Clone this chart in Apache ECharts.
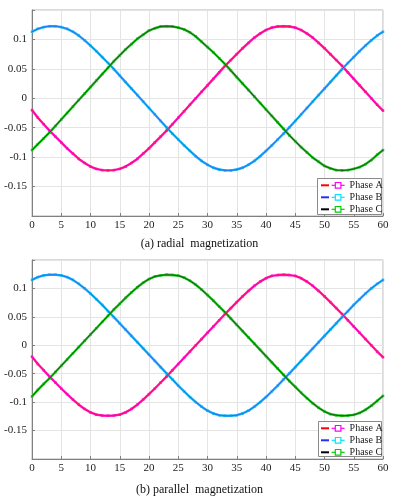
<!DOCTYPE html>
<html>
<head>
<meta charset="utf-8">
<script src="https://cdn.jsdelivr.net/npm/echarts@6/dist/echarts.min.js"></script>
<style>
  html, body { margin: 0; padding: 0; background: #fff; }
  #chart { width: 399px; height: 498px; }
</style>
</head>
<body>
<div id="chart"></div>
<script>
// x 轴: 0..60
var xDeg = [0, 1, 2, 3, 4, 5, 6, 7, 8, 9, 10, 11, 12, 13, 14, 15, 16, 17, 18, 19, 20,
  21, 22, 23, 24, 25, 26, 27, 28, 29, 30, 31, 32, 33, 34, 35, 36, 37, 38, 39, 40,
  41, 42, 43, 44, 45, 46, 47, 48, 49, 50, 51, 52, 53, 54, 55, 56, 57, 58, 59, 60];
var xTicks = [0, 5, 10, 15, 20, 25, 30, 35, 40, 45, 50, 55, 60];
var yTicks = [-0.15, -0.1, -0.05, 0, 0.05, 0.1];

// (a) radial magnetization
var radialA = [-0.020, -0.033, -0.044, -0.055, -0.065, -0.075, -0.085, -0.094, -0.103, -0.110, -0.116,
  -0.120, -0.122, -0.1225, -0.122, -0.120, -0.116, -0.110, -0.103, -0.094, -0.085,
  -0.075, -0.065, -0.055, -0.044, -0.033, -0.022, -0.011, 0, 0.011, 0.022,
  0.033, 0.044, 0.055, 0.065, 0.075, 0.085, 0.094, 0.103, 0.110, 0.116,
  0.120, 0.122, 0.1225, 0.122, 0.120, 0.116, 0.110, 0.103, 0.094, 0.085,
  0.075, 0.065, 0.055, 0.044, 0.033, 0.022, 0.011, 0, -0.011, -0.021];
var radialB = [0.113, 0.118, 0.121, 0.1225, 0.1225, 0.121, 0.118, 0.113, 0.1065, 0.0985, 0.0895,
  0.080, 0.070, 0.060, 0.0495, 0.0385, 0.0275, 0.0165, 0.0055, -0.0055, -0.0165,
  -0.0275, -0.0385, -0.0495, -0.060, -0.070, -0.080, -0.0895, -0.0985, -0.1065, -0.113,
  -0.118, -0.121, -0.1225, -0.1225, -0.121, -0.118, -0.113, -0.1065, -0.0985, -0.0895,
  -0.080, -0.070, -0.060, -0.0495, -0.0385, -0.0275, -0.0165, -0.0055, 0.0055, 0.0165,
  0.0275, 0.0385, 0.0495, 0.060, 0.070, 0.080, 0.0895, 0.0985, 0.1065, 0.113];
var radialC = [-0.088, -0.078, -0.068, -0.058, -0.047, -0.036, -0.025, -0.014, -0.003, 0.008, 0.019,
  0.030, 0.041, 0.052, 0.063, 0.073, 0.083, 0.092, 0.101, 0.108, 0.115,
  0.119, 0.122, 0.1225, 0.122, 0.120, 0.117, 0.112, 0.105, 0.096, 0.087,
  0.078, 0.068, 0.058, 0.047, 0.036, 0.025, 0.014, 0.003, -0.008, -0.019,
  -0.030, -0.041, -0.052, -0.063, -0.073, -0.083, -0.092, -0.101, -0.108, -0.115,
  -0.119, -0.122, -0.1225, -0.122, -0.120, -0.117, -0.112, -0.105, -0.096, -0.088];

// (b) parallel magnetization
var parallelA = [-0.020, -0.033, -0.044, -0.055, -0.0655, -0.076, -0.086, -0.0955, -0.1045, -0.112, -0.118,
  -0.122, -0.1235, -0.124, -0.1235, -0.122, -0.118, -0.112, -0.1045, -0.0955, -0.086,
  -0.076, -0.0655, -0.055, -0.044, -0.033, -0.022, -0.011, 0, 0.011, 0.022,
  0.033, 0.044, 0.055, 0.0655, 0.076, 0.086, 0.0955, 0.1045, 0.112, 0.118,
  0.122, 0.1235, 0.124, 0.1235, 0.122, 0.118, 0.112, 0.1045, 0.0955, 0.086,
  0.076, 0.0655, 0.055, 0.044, 0.033, 0.022, 0.011, 0, -0.011, -0.021];
var parallelB = [0.115, 0.120, 0.123, 0.124, 0.124, 0.123, 0.120, 0.115, 0.108, 0.100, 0.091,
  0.081, 0.071, 0.060, 0.0495, 0.0385, 0.0275, 0.0165, 0.0055, -0.0055, -0.0165,
  -0.0275, -0.0385, -0.0495, -0.060, -0.071, -0.081, -0.091, -0.100, -0.108, -0.115,
  -0.120, -0.123, -0.124, -0.124, -0.123, -0.120, -0.115, -0.108, -0.100, -0.091,
  -0.081, -0.071, -0.060, -0.0495, -0.0385, -0.0275, -0.0165, -0.0055, 0.0055, 0.0165,
  0.0275, 0.0385, 0.0495, 0.060, 0.071, 0.081, 0.091, 0.100, 0.108, 0.115];
var parallelC = [-0.090, -0.0785, -0.068, -0.058, -0.047, -0.036, -0.025, -0.014, -0.003, 0.008, 0.019,
  0.030, 0.041, 0.052, 0.063, 0.073, 0.0835, 0.093, 0.102, 0.110, 0.1165,
  0.121, 0.123, 0.124, 0.1236, 0.1224, 0.119, 0.1135, 0.1064, 0.0978, 0.0884,
  0.0785, 0.068, 0.058, 0.047, 0.036, 0.025, 0.014, 0.003, -0.008, -0.019,
  -0.030, -0.041, -0.052, -0.063, -0.073, -0.0835, -0.093, -0.102, -0.110, -0.1165,
  -0.121, -0.123, -0.124, -0.1236, -0.1224, -0.119, -0.1135, -0.1064, -0.0978, -0.089];

var phaseNames = ['Phase A', 'Phase B', 'Phase C'];
var lineNames = ['A', 'B', 'C'];

var FONT = 'Liberation Serif';

function pairs (ys) {
  var out = [];
  for (var i = 0; i < xDeg.length; i++) {
    out.push([xDeg[i], ys[i]]);
  }
  return out;
}

// 每相两条: 粗的标记色线 + 细的中心线
function phaseSeries (idx, ys, k) {
  var markColors = ['#ff14c4', '#1ab4f2', '#1cbf1c'];
  var lineColors = ['#ff0000', '#2030ff', '#000000'];
  return [
    {
      name: phaseNames[k],
      type: 'line',
      xAxisIndex: idx,
      yAxisIndex: idx,
      data: pairs(ys),
      symbol: 'rect',
      symbolSize: 2.5,
      showSymbol: true,
      lineStyle: {color: markColors[k], width: 2.4},
      itemStyle: {color: markColors[k]},
      z: 2
    },
    {
      name: lineNames[k],
      type: 'line',
      xAxisIndex: idx,
      yAxisIndex: idx,
      data: pairs(ys),
      symbol: 'none',
      lineStyle: {color: lineColors[k], width: 0.7, opacity: 0.7},
      itemStyle: {color: lineColors[k]},
      z: 3
    }
  ];
}

function yLabel (v) {
  for (var i = 0; i < yTicks.length; i++) {
    if (Math.abs(v - yTicks[i]) < 1e-6) {
      return String(yTicks[i]);
    }
  }
  return '';
}

function xAxisOpt (idx) {
  return {
    type: 'value',
    gridIndex: idx,
    min: xTicks[0],
    max: xTicks[xTicks.length - 1],
    interval: 5,
    axisLine: {onZero: false, lineStyle: {color: '#808080', width: 1}},
    axisTick: {inside: true, length: 3, lineStyle: {color: '#808080'}},
    axisLabel: {color: '#222', fontFamily: FONT, fontSize: 11, margin: 4},
    splitLine: {show: true, lineStyle: {color: '#e4e4e4', width: 1}}
  };
}

function yAxisOpt (idx) {
  return {
    type: 'value',
    gridIndex: idx,
    min: -0.2,
    max: 0.15,
    interval: 0.05,
    axisLine: {show: true, onZero: false, lineStyle: {color: '#808080', width: 1}},
    axisTick: {show: true, inside: true, length: 3, lineStyle: {color: '#808080'}},
    axisLabel: {color: '#222', fontFamily: FONT, fontSize: 11, margin: 5, formatter: yLabel},
    splitLine: {show: true, lineStyle: {color: '#e4e4e4', width: 1}}
  };
}

function legendPair (top) {
  var legendColors = ['#ff00ff', '#00e4ff', '#00d000'];
  var common = {
    orient: 'vertical',
    top: top,
    itemGap: 0,
    padding: 0,
    selectedMode: false,
    textStyle: {fontFamily: FONT, fontSize: 10, color: '#222', lineHeight: 12},
    z: 6
  };
  var left = Object.assign({}, common, {
    left: 321,
    icon: 'rect',
    itemWidth: 8,
    itemHeight: 2,
    data: lineNames,
    formatter: function () { return ' '; }
  });
  var right = Object.assign({}, common, {
    left: 331,
    itemWidth: 13,
    itemHeight: 7,
    data: phaseNames.map(function (n, k) {
      return {
        name: n,
        itemStyle: {color: '#fff', borderColor: legendColors[k], borderWidth: 1.2},
        lineStyle: {color: legendColors[k], width: 1.2}
      };
    })
  });
  return [left, right];
}

var chart = echarts.init(document.getElementById('chart'));

var series = [];
[radialA, radialB, radialC].forEach(function (ys, k) {
  series = series.concat(phaseSeries(0, ys, k));
});
[parallelA, parallelB, parallelC].forEach(function (ys, k) {
  series = series.concat(phaseSeries(1, ys, k));
});

var option = {
  animation: false,
  backgroundColor: '#fff',
  title: [
    {text: '(a) radial  magnetization', left: 'center', top: 233,
      textStyle: {fontFamily: FONT, fontSize: 12, fontWeight: 'normal', color: '#111'}},
    {text: '(b) parallel  magnetization', left: 'center', top: 479,
      textStyle: {fontFamily: FONT, fontSize: 12, fontWeight: 'normal', color: '#111'}}
  ],
  grid: [
    {left: 32, top: 10, width: 351, height: 206, show: true, borderColor: '#b4b4b4', borderWidth: 1},
    {left: 32, top: 260, width: 351, height: 199, show: true, borderColor: '#b4b4b4', borderWidth: 1}
  ],
  xAxis: [xAxisOpt(0), xAxisOpt(1)],
  yAxis: [yAxisOpt(0), yAxisOpt(1)],
  legend: legendPair(179.3).concat(legendPair(422.3)),
  graphic: [
    {type: 'rect', z: 4, shape: {x: 317.5, y: 178.5, width: 64, height: 36},
      style: {fill: '#fff', stroke: '#8a8a8a', lineWidth: 1}},
    {type: 'rect', z: 4, shape: {x: 318.5, y: 421.5, width: 63, height: 35},
      style: {fill: '#fff', stroke: '#8a8a8a', lineWidth: 1}}
  ],
  series: series
};

chart.setOption(option);
</script>
</body>
</html>
